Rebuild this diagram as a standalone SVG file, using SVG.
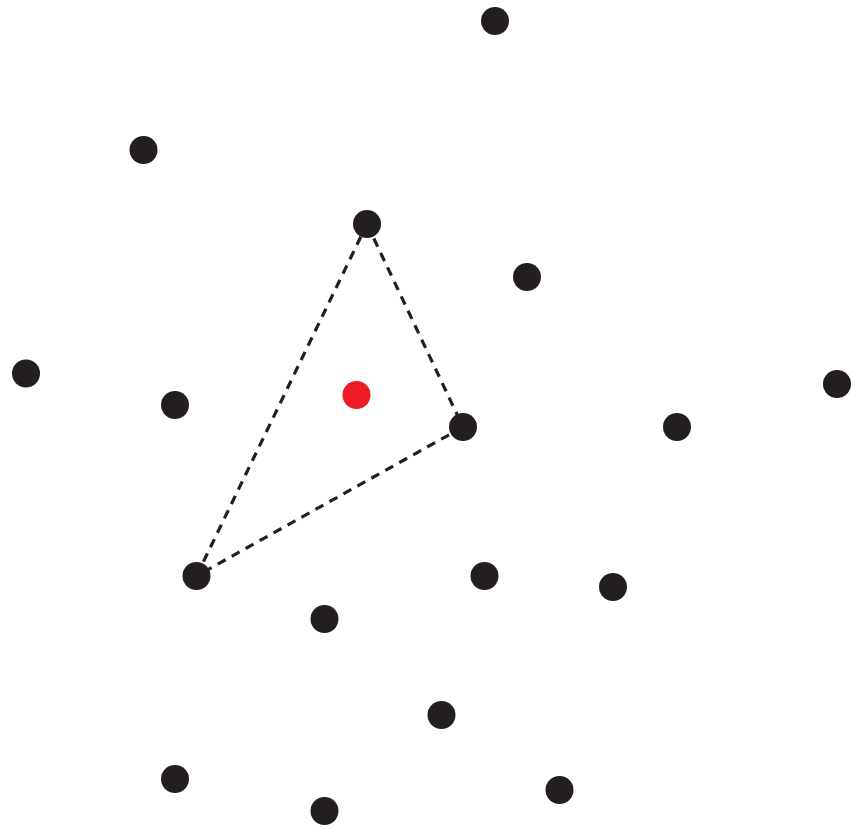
<svg xmlns="http://www.w3.org/2000/svg" width="859" height="829" viewBox="0 0 859 829">
<style>
.n{fill:#231f20}
.r{fill:#ed1c24}
.e{stroke:#231f20;stroke-width:3.2;stroke-dasharray:9 7;fill:none}
</style>
<rect width="859" height="829" fill="#fff"/>
<g id="connectors">
<line class="e" x1="367" y1="224" x2="463" y2="427"/>
<line class="e" x1="463" y1="427" x2="196.5" y2="576"/>
<line class="e" x1="196.5" y1="576" x2="367" y2="224"/>
</g>
<g id="n1"><circle class="n" cx="495" cy="21" r="14"/></g>
<g id="n2"><circle class="n" cx="143.5" cy="150" r="14"/></g>
<g id="n3"><circle class="n" cx="367" cy="224" r="14"/></g>
<g id="n4"><circle class="n" cx="527" cy="277" r="14"/></g>
<g id="n5"><circle class="n" cx="26" cy="373.5" r="14"/></g>
<g id="n6"><circle class="n" cx="175" cy="405" r="14"/></g>
<g id="red"><circle class="r" cx="356.5" cy="395" r="14"/></g>
<g id="n7"><circle class="n" cx="463" cy="427" r="14"/></g>
<g id="n8"><circle class="n" cx="677" cy="427" r="14"/></g>
<g id="n9"><circle class="n" cx="837" cy="384" r="14"/></g>
<g id="n10"><circle class="n" cx="196.5" cy="576" r="14"/></g>
<g id="n11"><circle class="n" cx="484.5" cy="576" r="14"/></g>
<g id="n12"><circle class="n" cx="613" cy="587" r="14"/></g>
<g id="n13"><circle class="n" cx="324.5" cy="619" r="14"/></g>
<g id="n14"><circle class="n" cx="441.5" cy="715" r="14"/></g>
<g id="n15"><circle class="n" cx="175" cy="779" r="14"/></g>
<g id="n16"><circle class="n" cx="324.5" cy="811" r="14"/></g>
<g id="n17"><circle class="n" cx="559.5" cy="790" r="14"/></g>
</svg>
